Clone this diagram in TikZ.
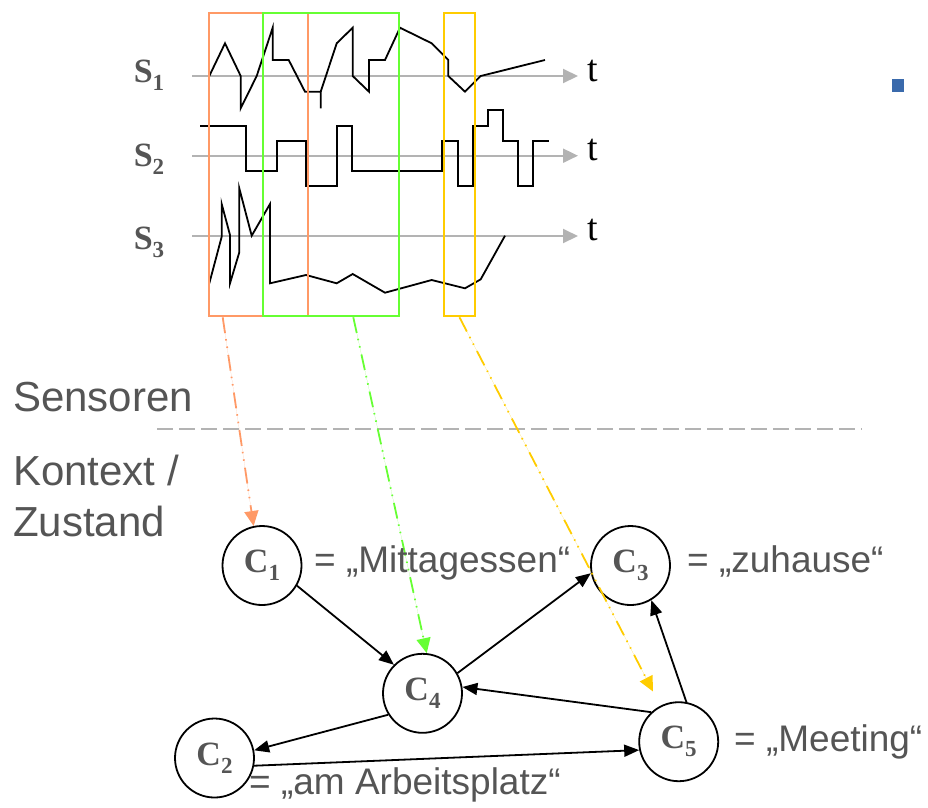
\documentclass[tikz,border=0pt]{standalone}
\usepackage{fontspec}
\setmainfont{Liberation Serif}
\newfontfamily\arialf{Liberation Sans}
\usetikzlibrary{arrows.meta,calc}
\definecolor{txtgray}{RGB}{85,85,85}
\definecolor{axgray}{RGB}{179,179,179}
\definecolor{winA}{RGB}{255,153,102}
\definecolor{winB}{RGB}{102,255,51}
\definecolor{winC}{RGB}{255,204,0}
\definecolor{bulletblue}{RGB}{58,106,172}
\newcommand\subn[1]{\raisebox{-8pt}{\fontsize{23}{23}\selectfont #1}}
\begin{document}
\begin{tikzpicture}[x=1pt,y=-1pt,
  sig/.style={line width=1.8pt, line join=miter},
  axisline/.style={draw=axgray, line width=2pt, -{Triangle[length=15pt,width=14pt]}},
  tlabel/.style={font=\fontsize{38}{38}\selectfont, anchor=base west, inner xsep=9pt, inner ysep=0pt},
  slabel/.style={font=\bfseries\fontsize{34}{34}\selectfont, text=txtgray, anchor=base, inner sep=0pt},
  state/.style={circle, draw, line width=1.8pt, minimum size=79pt, inner sep=0pt, font=\bfseries\fontsize{34}{34}\selectfont, text=txtgray},
  meaning/.style={font=\arialf\fontsize{37}{44}\selectfont, text=txtgray, anchor=base west, inner sep=0pt},
  side/.style={font=\arialf\fontsize{42}{44}\selectfont, text=txtgray, anchor=base west, inner sep=0pt},
  window/.style={line width=2pt, inner sep=0pt, anchor=north west, minimum height=303.3pt},
  proj/.style={line width=1.8pt, dash pattern=on 16pt off 6pt on 1.5pt off 6pt on 1.5pt off 7pt, -{Triangle[length=15pt,width=14pt]}},
  trans/.style={line width=1.8pt, -{Triangle[length=15pt,width=12pt]}}
]
\useasboundingbox (0,0) rectangle (928,807);

% time labels and axes
\node[tlabel] (t1) at (578,81.7) {t};
\node[tlabel] (t2) at (578,160) {t};
\node[tlabel] (t3) at (578,240) {t};
\coordinate (a1) at (192,76);
\coordinate (a2) at (192,155.7);
\coordinate (a3) at (192,236);
\draw[axisline] (a1) -- (a1 -| t1.west);
\draw[axisline] (a2) -- (a2 -| t2.west);
\draw[axisline] (a3) -- (a3 -| t3.west);

% sensor labels
\node[slabel] (s1) at (149,82.7) {S\subn{1}};
\node[slabel] (s2) at (149,166) {S\subn{2}};
\node[slabel] (s3) at (149,249.3) {S\subn{3}};

% signals
\draw[sig] (209.3,76) -- (225,43.3) -- (240.7,76) -- (240.7,108.3) -- (256.7,76) -- (272.7,27.7) -- (272.7,60) -- (288.7,60) -- (305,91.7) -- (320.7,91.7) -- (320.7,108.3);
\draw[sig] (320.7,91.7) -- (336.7,43.3) -- (352.7,27.7) -- (352.7,76) -- (369,91.7) -- (369,60) -- (385,60) -- (400,27.7) -- (431.7,43.3) -- (448.3,60) -- (448.3,76) -- (465,91.7) -- (480.7,76) -- (545,60);
\draw[sig] (200,125.7) -- (245.7,125.7) -- (245.7,171) -- (276.7,171) -- (276.7,140.7) -- (306,140.7) -- (306,186) -- (336.7,186) -- (336.7,125.7) -- (352.3,125.7) -- (352.3,171) -- (442.3,171) -- (442.3,140.7) -- (457.7,140.7) -- (457.7,186) -- (472.7,186) -- (472.7,125.7) -- (487.7,125.7) -- (487.7,110) -- (503.3,110) -- (503.3,140.7) -- (518.3,140.7) -- (518.3,186) -- (533.3,186) -- (533.3,140.7) -- (549,140.7);
\draw[sig] (209.3,283.3) -- (221.7,236.7) -- (221.7,204) -- (230,235) -- (230,283.3) -- (239.3,252.3) -- (239.3,188.3) -- (251.7,235.7) -- (270,204) -- (270,283.3) -- (306,275) -- (336.7,283.3) -- (352.7,274) -- (385,292.7) -- (431.7,280) -- (465,288.3) -- (480.7,279.3) -- (505,235.7);

% windows
\node[window, draw=winA, minimum width=99pt] (w1) at (208.3,12) {};
\node[window, draw=winB, minimum width=136.3pt] (w2) at (261.7,12) {};
\node[window, draw=winC, minimum width=30.4pt] (w3) at (443.3,12) {};

% separator and side labels
\coordinate (d1) at (157,429.3);
\coordinate (d2) at (862,429.3);
\draw[draw=axgray, line width=2pt, dash pattern=on 16pt off 6pt] (d1) -- (d2);
\node[side] (lsens) at (13,411.7) {Sensoren};
\node[side] (lkon) at (13,485) {Kontext /};
\node[side] (lzus) at (13,536.7) {Zustand};

% states
\node[state] (C1) at (262,565.5) {C\subn{1}};
\node[state] (C3) at (630.5,565.5) {C\subn{3}};
\node[state] (C4) at (422.5,693.3) {C\subn{4}};
\node[state] (C2) at (214.5,758) {C\subn{2}};
\node[state] (C5) at (678.7,741.7) {C\subn{5}};

% projections
\draw[proj, draw=winA, fill=winA] ($(w1.south west)+(14.4,0)$) -- (C1.102);
\draw[proj, draw=winB, fill=winB] ($(w2.south west)+(91.6,0)$) -- (C4.84);
\draw[proj, draw=winC, fill=winC, shorten >=16pt] (w3.south) -- (C5.117);

% transitions
\draw[trans] (C1.330) -- (C4.135);
\draw[trans] (C4.30) -- (C3.191);
\draw[trans] (C5.133) -- (C4.9);
\draw[trans] (C4.212) -- (C2.11);
\draw[trans] (C2.349) -- (C5.192);
\draw[trans] (C5.79) -- (C3.301);

% meanings
\node[meaning] (m1) at (314,572.7) {= „Mittagessen“};
\node[meaning] (m3) at (687,572.7) {= „zuhause“};
\node[meaning] (m5) at (734,751.7) {= „Meeting“};
\node[meaning] (m2) at (249,794) {= „am Arbeitsplatz“};

% bullet
\fill[bulletblue] (891.7,79) rectangle (904.3,92.3);
\end{tikzpicture}
\end{document}
